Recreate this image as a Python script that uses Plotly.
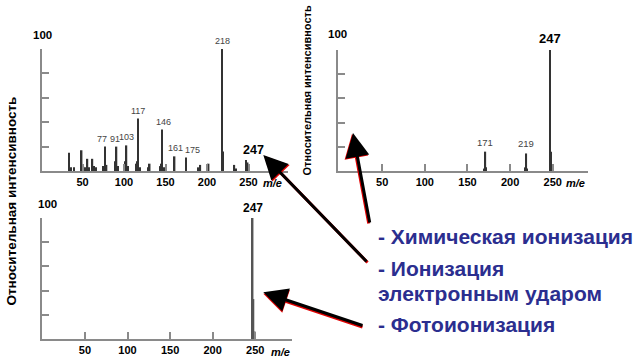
import plotly.graph_objects as go

W, H = 642, 361

# ---------------- data ----------------
# top-left spectrum (electron impact)
tl_mz = [34, 36, 40, 49, 51, 53, 56, 58, 62, 64, 66, 75, 77, 79, 89, 90, 91, 93,
         101, 102, 103, 105, 115, 116, 117, 119, 129, 131, 144, 145, 146, 148,
         161, 175, 190, 192, 202, 218, 219, 233, 235, 247, 249]
tl_int = [15, 3, 3, 17, 4, 3, 10, 3, 10, 4, 3, 4, 20, 5, 6, 8, 20, 4,
          5, 8, 21, 4, 6, 8, 43, 3, 3, 6, 4, 6, 34, 3,
          12, 11, 3, 5, 6, 100, 16, 5, 2, 9, 7]
tl_label_mz = [77, 91, 103, 117, 146, 161, 175, 218]
tl_label_int = [20, 20, 21, 43, 34, 12, 11, 100]

# top-right spectrum (chemical ionization)
tr_mz = [170, 171, 172, 218, 219, 220, 247, 248, 249, 250]
tr_int = [2, 16, 3, 3, 14.5, 2, 100, 16, 5, 3]
tr_label_mz = [171, 219]
tr_label_int = [16, 14.5]

# bottom spectrum (photoionization)
bt_mz = [247, 248, 249, 250]
bt_int = [100, 33, 6, 6]

x_ticks = [50, 100, 150, 200, 250]
y_ticks = [0, 20, 40, 60, 80, 100]
y_title = "Относительная интенсивность"
legend_lines = ["- Химическая ионизация", "- Ионизация", "электронным ударом", "- Фотоионизация"]

# ---------------- style ----------------
FONT = "Liberation Sans"
AXC = "#8a8a8a"
# small horizontal nudges of the top-left peak labels (pixels), as in the scan
tl_label_nudge = {77: -3, 91: -1.5, 103: 0.5, 117: 0, 146: 1, 161: 1, 175: 6, 218: 1}


def px(x):
    return x / W


def py(y):
    return 1 - y / H


def xax(dom, rng, anchor):
    return dict(domain=dom, range=rng, anchor=anchor, showline=True, linecolor=AXC,
                linewidth=1.5, ticks="inside", ticklen=7, tickwidth=1.5, tickcolor=AXC,
                tickvals=x_ticks, showgrid=False, zeroline=False, fixedrange=True,
                tickfont=dict(family=FONT, size=11, color="black", weight="bold"))


def yax(dom, anchor):
    return dict(domain=dom, range=[0, 100], anchor=anchor, showline=True, linecolor=AXC,
                linewidth=1.5, ticks="inside", ticklen=7, tickwidth=1.5, tickcolor=AXC,
                tickvals=y_ticks, showticklabels=False, showgrid=False, zeroline=False,
                fixedrange=True)


def ptext(xx, yy, text, size, color="black", weight="bold", xanchor="center", angle=0):
    return dict(x=px(xx), y=py(yy), xref="paper", yref="paper", text=text, showarrow=False,
                xanchor=xanchor, yanchor="middle", textangle=angle,
                font=dict(family=FONT, size=size, color=color, weight=weight))


fig = go.Figure()
fig.add_trace(go.Bar(x=tl_mz, y=tl_int, width=1.8, marker=dict(color="#333", line=dict(width=0)),
                     xaxis="x", yaxis="y"))
fig.add_trace(go.Bar(x=tr_mz, y=tr_int, width=1.8, marker=dict(color="#333", line=dict(width=0)),
                     xaxis="x2", yaxis="y2"))
fig.add_trace(go.Bar(x=bt_mz, y=bt_int, width=1.8, marker=dict(color="#555", line=dict(width=0)),
                     xaxis="x3", yaxis="y3"))

ann = []
# peak labels
for m, v in zip(tl_label_mz, tl_label_int):
    ann.append(dict(x=m, y=v, xref="x", yref="y", text=str(m), showarrow=False,
                    xanchor="center", yanchor="bottom", yshift=1, xshift=tl_label_nudge.get(m, 0),
                    font=dict(family=FONT, size=9, color="#444")))
for m, v in zip(tr_label_mz, tr_label_int):
    ann.append(dict(x=m, y=v, xref="x2", yref="y2", text=str(m), showarrow=False,
                    xanchor="center", yanchor="bottom", yshift=2,
                    font=dict(family=FONT, size=9.5, color="#444")))
ann.append(dict(x=247, y=100, xref="x2", yref="y2", text="247", showarrow=False,
                xanchor="center", yanchor="bottom", yshift=2,
                font=dict(family=FONT, size=13, color="black", weight="bold")))
ann.append(dict(x=247, y=100, xref="x3", yref="y3", text="247", showarrow=False,
                xanchor="center", yanchor="bottom", yshift=1,
                font=dict(family=FONT, size=12, color="black", weight="bold")))
ann.append(ptext(253, 150, "247", 12.5))
# "100" labels
for (xx, yy) in [(42.5, 35), (338, 34.5), (47.5, 204)]:
    ann.append(ptext(xx, yy, "100", 11.5))
# m/e labels
for (xx, yy) in [(272, 183), (575, 183), (280, 352)]:
    ann.append(ptext(xx, yy, "<i>m/e</i>", 11))
# y titles
ann.append(ptext(10.5, 201, y_title, 13.5, angle=-90))
ann.append(ptext(306.5, 91, y_title, 11, angle=-90))
# legend texts
for txt, yy in zip(legend_lines, [236, 268, 293, 324]):
    ann.append(ptext(376, yy, txt, 21, color="#2b2e8f", xanchor="left"))
# arrows (red shadow then black)
arrows = [((353, 133), (370, 224), (-1, 1)),
          ((263.3, 155), (368, 263), (1, 1)),
          ((263.3, 292.3), (364, 326), (0, 1.5))]
for (tip, tail, off) in arrows:
    for col, dx, dy in [("#e00000", off[0], off[1]), ("black", 0, 0)]:
        ann.append(dict(x=px(tip[0] + dx), y=py(tip[1] + dy), xref="paper", yref="paper",
                        ax=tail[0] - tip[0], ay=tail[1] - tip[1], axref="pixel", ayref="pixel",
                        text="", showarrow=True, arrowhead=2, arrowsize=1.6, arrowwidth=3,
                        arrowcolor=col))

x1_0, x1_s = 41, 0.83
x2_0, x2_s = 339.5, 0.853
x3_0, x3_s = 42.4, 0.8513

fig.update_layout(
    width=W, height=H, margin=dict(l=0, r=0, t=0, b=0),
    paper_bgcolor="white", plot_bgcolor="rgba(0,0,0,0)", showlegend=False,
    barmode="overlay",
    xaxis=xax([px(42), px(288)], [(42 - x1_0) / x1_s, (288 - x1_0) / x1_s], "y"),
    yaxis=yax([py(171), py(49)], "x"),
    xaxis2=xax([px(338), px(588)], [(338 - x2_0) / x2_s, (588 - x2_0) / x2_s], "y2"),
    yaxis2=yax([py(171), py(50)], "x2"),
    xaxis3=xax([px(42), px(292)], [(42 - x3_0) / x3_s, (292 - x3_0) / x3_s], "y3"),
    yaxis3=yax([py(339), py(218)], "x3"),
    annotations=ann,
)

fig.write_html("out.html", config={"displayModeBar": False},
               post_script="document.body.style.margin='0';document.body.style.overflow='hidden';")
